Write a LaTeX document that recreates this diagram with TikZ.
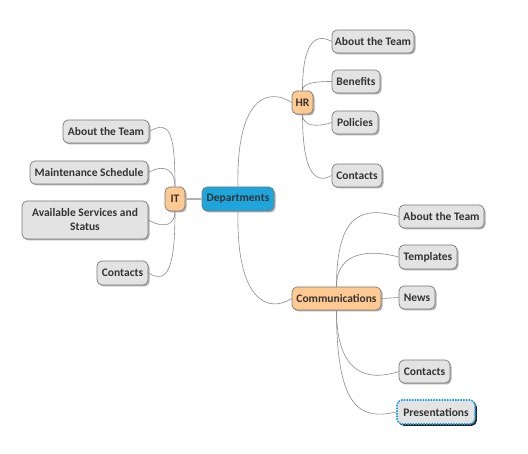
\documentclass[tikz,border=0pt]{standalone}
\usepackage{fontspec}
\setmainfont{Carlito}
\usetikzlibrary{shadows}
\definecolor{boxfill}{HTML}{E3E3E3}
\definecolor{boxdraw}{HTML}{7A7A7A}
\definecolor{txt}{HTML}{333333}
\definecolor{peach}{HTML}{FFC992}
\definecolor{depblue}{HTML}{1EA6DC}
\definecolor{linec}{HTML}{8C8C8C}
\definecolor{dotblue}{HTML}{1A9FE0}
\tikzset{
  base/.style={rounded corners=5pt, draw=boxdraw, line width=0.7pt, inner sep=0pt,
    font=\bfseries\fontsize{11.5}{14}\selectfont, text=txt, align=center,
    drop shadow={shadow xshift=1.5pt, shadow yshift=-1.5pt, fill=black!30, opacity=1}},
  leaf/.style={base, fill=boxfill, minimum height=23pt},
  hub/.style={base, fill=peach, minimum height=24pt},
  root/.style={base, fill=depblue, minimum height=24pt},
  sel/.style={rounded corners=5pt, draw=dotblue, line width=1.6pt, dash pattern=on 1.5pt off 1.2pt, inner sep=0pt,
    font=\bfseries\fontsize{11.5}{14}\selectfont, text=txt, fill=boxfill, minimum height=24pt,
    drop shadow={shadow xshift=1.8pt, shadow yshift=-1.8pt, fill=black!85, opacity=1}},
  conn/.style={draw=linec, line width=0.6pt},
}
\begin{document}
\begin{tikzpicture}[x=1pt,y=-1pt]
\useasboundingbox[fill=white] (0,0) rectangle (528,454);
% central
\node[root, minimum width=72pt] (dep) at (238,199) {Departments};
\node[hub, minimum width=20pt] (it) at (175,199) {IT};
\node[hub, minimum width=21pt, minimum height=23pt] (hr) at (302.5,102.5) {HR};
\node[hub, minimum width=89pt, minimum height=23pt] (comm) at (336.5,298.5) {Communications};
% IT children
\node[leaf, minimum width=86pt] (it1) at (106,131.5) {About the Team};
\node[leaf, minimum width=118pt] (it2) at (89,172.5) {Maintenance Schedule};
\node[leaf, minimum width=126pt, minimum height=38pt] (it3) at (85,220) {Available Services and\\Status};
\node[leaf, minimum width=51pt, minimum height=24pt] (it4) at (122.5,273) {Contacts};
% HR children
\node[leaf, minimum width=82pt] (hr1) at (373,41.5) {About the Team};
\node[leaf, minimum width=48pt] (hr2) at (356,81.5) {Benefits};
\node[leaf, minimum width=46pt] (hr3) at (355,122.5) {Policies};
\node[leaf, minimum width=50pt] (hr4) at (357,175.5) {Contacts};
% Comm children
\node[leaf, minimum width=85pt] (c1) at (441.5,216.5) {About the Team};
\node[leaf, minimum width=58pt, minimum height=24pt] (c2) at (428,257) {Templates};
\node[leaf, minimum width=36pt] (c3) at (417,297.5) {News};
\node[leaf, minimum width=51pt] (c4) at (424.5,371.5) {Contacts};
\node[sel, minimum width=78pt] (c5) at (436,412) {Presentations};
% connectors
\draw[draw=black!30, line width=1.6pt] (it.east) -- (dep.west);
\path[conn] (dep.north) .. controls +(-2,-92) and +(-22,-14.5) .. (hr.west);
\path[conn] (dep.south) .. controls +(-2,92) and +(-22,14.5) .. (comm.west);
\path[conn] (it.north) .. controls +(0,-55) and +(20,-12) .. (it1.east);
\path[conn] (it.north) .. controls +(0,-15) and +(18,-10) .. (it2.east);
\path[conn] (it.south) .. controls +(0,12) and +(18,10) .. (it3.east);
\path[conn] (it.south) .. controls +(0,55) and +(20,12) .. (it4.east);
\path[conn] (hr.north) .. controls +(0,-45) and +(-18,-10) .. (hr1.west);
\path[conn] (hr.north) .. controls +(0,-8) and +(-15,0) .. (hr2.west);
\path[conn] (hr.south) .. controls +(0,12) and +(-15,5) .. (hr3.west);
\path[conn] (hr.south) .. controls +(0,55) and +(-18,10) .. (hr4.west);
\path[conn] (comm.north) .. controls +(0,-75) and +(-35,-10) .. (c1.west);
\path[conn] (comm.north) .. controls +(0,-35) and +(-30,-8) .. (c2.west);
\path[conn] (comm.east) -- (c3.west);
\path[conn] (comm.south) .. controls +(0,65) and +(-30,10) .. (c4.west);
\path[conn] (comm.south) .. controls +(0,100) and +(-35,8) .. (c5.west);
\end{tikzpicture}
\end{document}
